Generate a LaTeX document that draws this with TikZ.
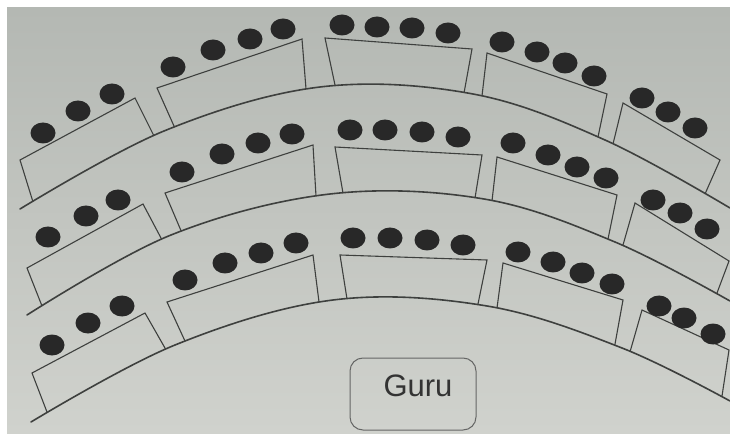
\documentclass[tikz,border=0pt]{standalone}
\usepackage{fontspec}
\setmainfont{Liberation Sans}
\usetikzlibrary{calc,intersections}
\definecolor{bgtop}{RGB}{180,184,179}
\definecolor{bgbot}{RGB}{208,210,205}
\definecolor{ink}{RGB}{62,64,62}
\definecolor{dotc}{RGB}{40,40,40}
\tikzset{
  desk/.style={draw=ink, line width=1.1pt, line join=miter},
  rowarc/.style={draw=ink, line width=1.6pt, line cap=round},
  seatdot/.style={fill=dotc},
  gurubox/.style={draw=ink!80, line width=1pt, rounded corners=13pt, minimum width=126pt, minimum height=72pt, inner sep=0pt},
  gurulabel/.style={text=black!80, font=\fontsize{31}{36}\selectfont, inner sep=0pt}
}
% #1 top-left, #2 top-right, #3 bottom-right guide, #4 bottom-left guide, #5 row arc path
\newcommand{\mydesk}[5]{%
  \path[name path=sideL] #1 -- ($#1!1.3!#4$);
  \path[name path=sideR] #2 -- ($#2!1.3!#3$);
  \path[name intersections={of=sideL and #5, by=deskbl}];
  \path[name intersections={of=sideR and #5, by=deskbr}];
  \draw[desk] (deskbl) -- #1 -- #2 -- (deskbr);
}
\newcommand{\myseat}[1]{\fill[seatdot] #1 ellipse [x radius=12.5pt, y radius=10.5pt];}
\begin{document}
\begin{tikzpicture}[x=1pt,y=-1pt]
\useasboundingbox (0,0) rectangle (730,435);
\fill[white] (0,0) rectangle (730,435);
\shade[top color=bgtop, bottom color=bgbot] (7,8) rectangle (730,433);

% row arcs
\draw[rowarc, name path=arcA] plot[smooth, tension=0.6] coordinates {(20,209) (164,131) (320,87) (473,94) (605,140) (730,208)};
\draw[rowarc, name path=arcB] plot[smooth, tension=0.6] coordinates {(27,315) (171,235) (330,194) (484,199) (615,242) (730,301)};
\draw[rowarc, name path=arcC] plot[smooth, tension=0.6] coordinates {(31,422) (175,345) (333,300) (487,306) (622,348) (730,401)};

% row 1 desks
\mydesk{(20,160)}{(135,98)}{(154,136)}{(33,202)}{arcA}
\mydesk{(157,88)}{(302,39)}{(306,89)}{(174,126)}{arcA}
\mydesk{(325,38)}{(472,49)}{(464,93)}{(335,85)}{arcA}
\mydesk{(487,53)}{(607,94)}{(598,137)}{(482,96)}{arcA}
\mydesk{(623,103)}{(720,160)}{(705,194)}{(613,144)}{arcA}
% row 2 desks
\mydesk{(27,268)}{(143,204)}{(161,238)}{(42,306)}{arcB}
\mydesk{(165,193)}{(313,145)}{(316,196)}{(182,233)}{arcB}
\mydesk{(335,147)}{(482,155)}{(475,198)}{(343,193)}{arcB}
\mydesk{(497,157)}{(617,195)}{(608,239)}{(492,201)}{arcB}
\mydesk{(635,203)}{(729,261)}{(717,293)}{(623,245)}{arcB}
% row 3 desks
\mydesk{(32,373)}{(145,313)}{(165,348)}{(47,412)}{arcC}
\mydesk{(167,302)}{(313,255)}{(319,302)}{(185,341)}{arcC}
\mydesk{(340,255)}{(487,260)}{(478,304)}{(347,299)}{arcC}
\mydesk{(503,263)}{(623,300)}{(615,344)}{(497,308)}{arcC}
\mydesk{(642,310)}{(729,350)}{(722,396)}{(630,352)}{arcC}

% row 1 seats
\myseat{(43,133)}\myseat{(78,111)}\myseat{(112,94)}
\myseat{(173,67)}\myseat{(213,50)}\myseat{(250,39)}\myseat{(283,29)}
\myseat{(342,25)}\myseat{(377,27)}\myseat{(412,28)}\myseat{(448,33)}
\myseat{(502,42)}\myseat{(537,52)}\myseat{(565,63)}\myseat{(594,76)}
\myseat{(642,98)}\myseat{(668,112)}\myseat{(695,128)}
% row 2 seats
\myseat{(48,237)}\myseat{(86,216)}\myseat{(118,200)}
\myseat{(182,172)}\myseat{(222,154)}\myseat{(258,143)}\myseat{(292,134)}
\myseat{(350,130)}\myseat{(385,130)}\myseat{(422,132)}\myseat{(458,137)}
\myseat{(513,143)}\myseat{(548,155)}\myseat{(577,167)}\myseat{(606,178)}
\myseat{(653,200)}\myseat{(680,213)}\myseat{(707,229)}
% row 3 seats
\myseat{(52,345)}\myseat{(88,323)}\myseat{(122,306)}
\myseat{(185,280)}\myseat{(225,263)}\myseat{(261,253)}\myseat{(296,243)}
\myseat{(353,238)}\myseat{(390,238)}\myseat{(427,240)}\myseat{(463,245)}
\myseat{(518,252)}\myseat{(553,262)}\myseat{(582,273)}\myseat{(612,284)}
\myseat{(659,306)}\myseat{(684,318)}\myseat{(713,334)}

% teacher
\node[gurubox] (guru) at (413,394) {};
\node[gurulabel] (gurutext) at (418,386) {Guru};
\end{tikzpicture}
\end{document}
